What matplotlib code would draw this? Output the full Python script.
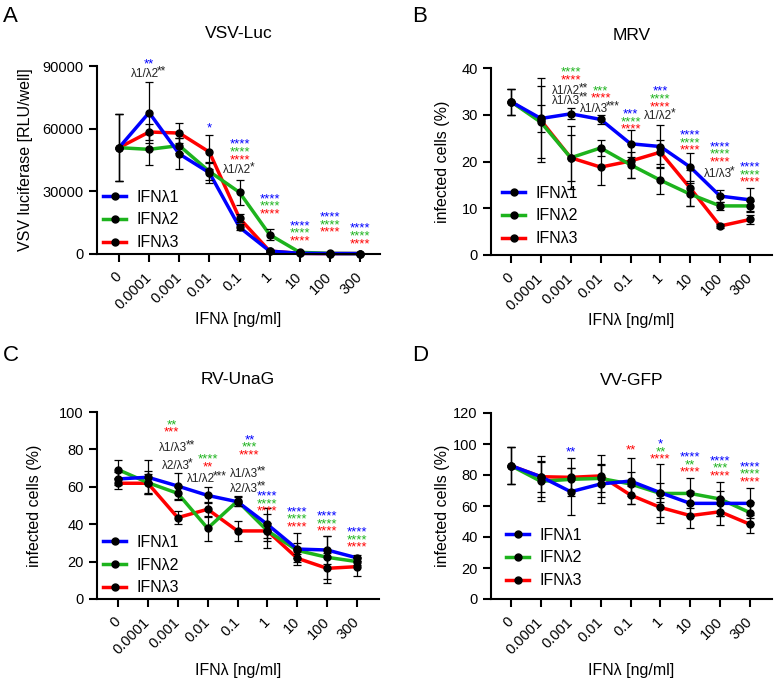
import matplotlib
matplotlib.use('Agg')
import matplotlib.pyplot as plt
from matplotlib.lines import Line2D
import numpy as np

plt.rcParams['font.family'] = ['Liberation Sans', 'DejaVu Sans']

# ---------------- data ----------------
doses = ['0', '0.0001', '0.001', '0.01', '0.1', '1', '10', '100', '300']
series_names = ['IFNλ1', 'IFNλ2', 'IFNλ3']
series_colors = ['#0000FF', '#1DB31D', '#FF0000']
xlabel_text = 'IFNλ [ng/ml]'

# A  VSV-Luc
vsv_l1 = [50900, 67700, 47900, 38900, 12800, 1400, 300, 200, 200]
vsv_l2 = [50900, 50100, 51900, 39500, 29500, 9250, 800, 300, 200]
vsv_l3 = [50900, 58400, 57900, 48800, 17100, 1400, 300, 200, 200]
vsv_l1_sd = [16000, 14500, 7400, 5100, 1500, 500, 200, 100, 100]
vsv_l2_sd = [16000, 7500, 3500, 4000, 6000, 2500, 400, 100, 100]
vsv_l3_sd = [16000, 4000, 4800, 8000, 2000, 500, 200, 100, 100]

# B  MRV
mrv_l1 = [32.8, 29.2, 30.2, 29.0, 23.8, 23.2, 18.8, 12.6, 11.8]
mrv_l2 = [32.8, 28.4, 20.8, 22.9, 19.3, 16.0, 13.0, 10.5, 10.5]
mrv_l3 = [32.8, 28.8, 20.8, 18.8, 20.1, 22.0, 14.3, 6.2, 7.6]
mrv_l1_sd = [2.8, 2.8, 1.2, 1.0, 2.9, 4.6, 3.0, 1.2, 2.6]
mrv_l2_sd = [2.8, 7.7, 4.9, 1.7, 2.8, 2.9, 2.5, 0.8, 1.0]
mrv_l3_sd = [2.8, 9.0, 6.7, 3.8, 3.6, 2.5, 3.8, 0.4, 0.9]

# C  RV-UnaG
rv_l1 = [64.2, 65.1, 60.4, 55.4, 52.0, 39.9, 26.7, 26.2, 22.0]
rv_l2 = [69.2, 62.2, 56.5, 37.8, 52.4, 36.5, 26.0, 22.3, 20.0]
rv_l3 = [61.9, 61.9, 43.5, 48.0, 36.4, 36.4, 21.8, 16.4, 17.3]
rv_l1_sd = [3.5, 9.0, 6.8, 4.3, 2.5, 9.0, 8.5, 7.5, 1.5]
rv_l2_sd = [5.0, 6.0, 3.5, 6.6, 2.5, 9.0, 4.0, 11.6, 2.0]
rv_l3_sd = [3.0, 5.0, 3.5, 4.0, 5.5, 4.0, 2.0, 8.0, 5.0]

# D  VV-GFP
vv_l1 = [86.0, 78.9, 69.2, 74.2, 76.1, 68.6, 61.7, 61.7, 61.7]
vv_l2 = [86.0, 75.9, 77.2, 77.8, 74.2, 68.1, 68.1, 64.5, 55.7]
vv_l3 = [86.0, 78.9, 78.5, 79.4, 67.1, 59.1, 53.8, 56.3, 48.2]
vv_l1_sd = [12.0, 13.4, 15.0, 12.0, 15.0, 6.0, 8.0, 8.0, 9.7]
vv_l2_sd = [12.0, 12.7, 7.0, 9.0, 8.0, 19.0, 9.7, 11.2, 7.0]
vv_l3_sd = [12.0, 10.0, 12.3, 13.5, 6.0, 6.0, 8.2, 8.6, 5.8]

# significance annotations: (x index, y value, text, colour key)
vsv_annot = [
    (1, 92900, '**', 'b'), (1, 86600, 'λ1/λ2**', 'k'),
    (3, 62200, '*', 'b'),
    (4, 54600, '****', 'b'), (4, 50700, '****', 'g'), (4, 46900, '****', 'r'), (4, 40700, 'λ1/λ2*', 'k'),
    (5, 28200, '****', 'b'), (5, 24900, '****', 'g'), (5, 21100, '****', 'r'),
    (6, 15300, '****', 'b'), (6, 12000, '****', 'g'), (6, 8100, '****', 'r'),
    (7, 19600, '****', 'b'), (7, 15800, '****', 'g'), (7, 12400, '****', 'r'),
    (8, 14400, '****', 'b'), (8, 10500, '****', 'g'), (8, 6700, '****', 'r'),
]
mrv_annot = [
    (2, 40.0, '****', 'g'), (2, 38.3, '****', 'r'), (2, 35.3, 'λ1/λ2**', 'k'), (2, 33.2, 'λ1/λ3**', 'k'),
    (3, 35.9, '***', 'g'), (3, 34.4, '****', 'r'), (3, 31.4, 'λ1/λ3***', 'k'),
    (4, 31.0, '***', 'b'), (4, 29.3, '****', 'g'), (4, 27.8, '****', 'r'),
    (5, 35.9, '***', 'b'), (5, 34.2, '****', 'g'), (5, 32.5, '****', 'r'), (5, 29.9, 'λ1/λ2*', 'k'),
    (6, 26.5, '****', 'b'), (6, 24.8, '****', 'g'), (6, 23.3, '****', 'r'),
    (7, 24.0, '****', 'b'), (7, 22.5, '****', 'g'), (7, 20.7, '****', 'r'), (7, 17.5, 'λ1/λ3*', 'k'),
    (8, 19.7, '****', 'b'), (8, 18.0, '****', 'g'), (8, 16.5, '****', 'r'),
]
rv_annot = [
    (1.8, 95.2, '**', 'g'), (1.8, 91.4, '***', 'r'), (2.0, 81.3, 'λ1/λ3**', 'k'), (2.0, 71.7, 'λ2/λ3*', 'k'),
    (3.0, 77.0, '****', 'g'), (3.0, 72.7, '**', 'r'), (3.0, 64.7, 'λ1/λ2***', 'k'),
    (4.4, 87.2, '**', 'b'), (4.4, 83.4, '***', 'g'), (4.4, 79.1, '****', 'r'),
    (4.38, 67.4, 'λ1/λ3**', 'k'), (4.38, 59.4, 'λ2/λ3**', 'k'),
    (5, 57.2, '****', 'b'), (5, 52.9, '****', 'g'), (5, 49.2, '****', 'r'),
    (6, 48.7, '****', 'b'), (6, 44.9, '****', 'g'), (6, 40.6, '****', 'r'),
    (7, 46.5, '****', 'b'), (7, 42.2, '****', 'g'), (7, 38.5, '****', 'r'),
    (8, 38.0, '****', 'b'), (8, 33.7, '****', 'g'), (8, 29.9, '****', 'r'),
]
vv_annot = [
    (2, 97.4, '**', 'b'),
    (4, 98.7, '**', 'r'),
    (5, 102.6, '*', 'b'), (5, 97.4, '**', 'g'), (5, 92.9, '****', 'r'),
    (6, 94.2, '****', 'b'), (6, 89.0, '**', 'g'), (6, 84.5, '****', 'r'),
    (7, 91.6, '****', 'b'), (7, 87.1, '***', 'g'), (7, 81.9, '****', 'r'),
    (8, 87.7, '****', 'b'), (8, 83.2, '****', 'g'), (8, 78.1, '****', 'r'),
]

panels = [
    dict(letter='A', title='VSV-Luc', ylabel='VSV luciferase [RLU/well]',
         data=[vsv_l1, vsv_l2, vsv_l3], sd=[vsv_l1_sd, vsv_l2_sd, vsv_l3_sd],
         yticks=[0, 30000, 60000, 90000], annot=vsv_annot),
    dict(letter='B', title='MRV', ylabel='infected cells (%)',
         data=[mrv_l1, mrv_l2, mrv_l3], sd=[mrv_l1_sd, mrv_l2_sd, mrv_l3_sd],
         yticks=[0, 10, 20, 30, 40], annot=mrv_annot),
    dict(letter='C', title='RV-UnaG', ylabel='infected cells (%)',
         data=[rv_l1, rv_l2, rv_l3], sd=[rv_l1_sd, rv_l2_sd, rv_l3_sd],
         yticks=[0, 20, 40, 60, 80, 100], annot=rv_annot),
    dict(letter='D', title='VV-GFP', ylabel='infected cells (%)',
         data=[vv_l1, vv_l2, vv_l3], sd=[vv_l1_sd, vv_l2_sd, vv_l3_sd],
         yticks=[0, 20, 40, 60, 80, 100, 120], annot=vv_annot),
]

# ---------------- layout (pixels) ----------------
W, H = 774, 683
layout = [
    dict(l=97, r=380, t=66, b=254, x0=119, x8=360, ylab=-0.227, xlab=320, leg=(103, 220), letter=(3, 22)),
    dict(l=491, r=772, t=68, b=255, x0=511, x8=750, ylab=-0.146, xlab=320, leg=(502, 216), letter=(412, 22)),
    dict(l=97, r=379, t=412, b=599, x0=118, x8=357, ylab=-0.196, xlab=670, leg=(103, 565), letter=(3, 361)),
    dict(l=491, r=772, t=413, b=599, x0=511, x8=750, ylab=-0.146, xlab=670, leg=(506, 558), letter=(412, 361)),
]

ckeys = {'b': series_colors[0], 'g': series_colors[1], 'r': series_colors[2], 'k': '#222222'}
STAR_FS = 9.5
LAM_FS = 8.5

fig = plt.figure(figsize=(W / 100, H / 100), dpi=100)


def add_label(ax, xi, yi, txt, ck):
    if ck != 'k':
        ax.annotate(txt, (xi, yi), xytext=(0, -5.3), textcoords='offset points',
                    ha='center', va='baseline', fontsize=STAR_FS, color=ckeys[ck],
                    annotation_clip=False)
        return
    main = txt.rstrip('*')
    sup = txt[len(main):]
    shift = -len(sup) * 0.389 * LAM_FS / 2
    t = ax.annotate(main, (xi, yi), xytext=(shift, -3), textcoords='offset points',
                    ha='center', va='baseline', fontsize=LAM_FS, color=ckeys[ck],
                    annotation_clip=False)
    ax.annotate(sup, xy=(1, 0), xycoords=t, xytext=(-1.3, 2.2), textcoords='offset points',
                ha='left', va='bottom', fontsize=LAM_FS, color=ckeys[ck],
                annotation_clip=False)


x = np.arange(len(doses))
for p, L in zip(panels, layout):
    ax = fig.add_axes([L['l'] / W, 1 - L['b'] / H, (L['r'] - L['l']) / W, (L['b'] - L['t']) / H])
    sp = (L['x8'] - L['x0']) / 8.0
    ax.set_xlim((L['l'] - L['x0']) / sp, 8 + (L['r'] - L['x8']) / sp)
    ax.set_ylim(p['yticks'][0], p['yticks'][-1])

    for i, (vals, sds) in enumerate(zip(p['data'], p['sd'])):
        ax.errorbar(x, vals, yerr=sds, fmt='none', ecolor='black', elinewidth=0.9,
                    capsize=3, capthick=0.9, zorder=3, clip_on=False)
    for i, vals in reversed(list(enumerate(p['data']))):
        ax.plot(x, vals, color=series_colors[i], lw=2.5, zorder=2, clip_on=False,
                solid_capstyle='butt')
    for i, vals in enumerate(p['data']):
        ax.plot(x, vals, ls='none', marker='o', ms=5, color='black', zorder=4, clip_on=False)

    for (xi, yi, txt, ck) in p['annot']:
        add_label(ax, xi, yi, txt, ck)

    for s in ['top', 'right']:
        ax.spines[s].set_visible(False)
    for s in ['left', 'bottom']:
        ax.spines[s].set_linewidth(1.5)
    ax.tick_params(width=1.5, length=6, labelsize=10.5, colors='black')
    ax.set_yticks(p['yticks'])
    ax.set_xticks(x)
    ax.set_xticklabels(doses, rotation=45, ha='right', va='center', rotation_mode='anchor')
    ax.tick_params(axis='x', pad=9)

    ax.set_title(p['title'], fontsize=12.5, pad=20)
    ax.set_ylabel(p['ylabel'], fontsize=11.5)
    ax.yaxis.set_label_coords(L['ylab'], 0.5)
    ax.set_xlabel(xlabel_text, fontsize=11.5, va='center')
    ax.xaxis.set_label_coords(0.5, (L['b'] - L['xlab']) / (L['b'] - L['t']))

    handles = [Line2D([], [], color=series_colors[i], lw=2.5, marker='o', ms=5,
                      mfc='black', mec='black') for i in range(3)]
    lx = (L['leg'][0] - L['l']) / (L['r'] - L['l'])
    ly = (L['b'] - L['leg'][1]) / (L['b'] - L['t'])
    ax.legend(handles, series_names, loc='center left', bbox_to_anchor=(lx, ly),
              frameon=False, borderpad=0, borderaxespad=0, fontsize=11.5,
              handlelength=1.45, handletextpad=0.65, labelspacing=0.5)

    fig.text(L['letter'][0] / W, 1 - L['letter'][1] / H, p['letter'], fontsize=16,
             va='baseline', ha='left')

fig.savefig('out.png', dpi=100)
